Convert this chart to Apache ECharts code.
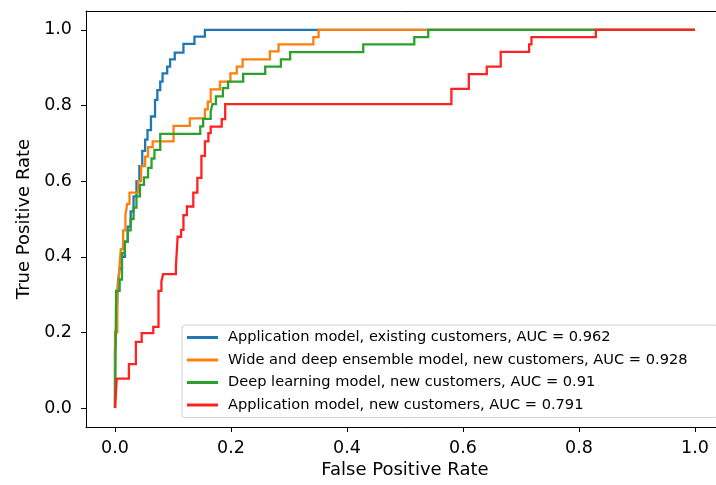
<!DOCTYPE html>
<html>
<head>
<meta charset="utf-8">
<script src="https://cdn.jsdelivr.net/npm/echarts@6/dist/echarts.min.js"></script>
<style>
html,body{margin:0;padding:0;background:#fff;overflow:hidden;}
#chart{width:716px;height:485px;}
</style>
</head>
<body>
<div id="chart"></div>
<script>
// ---- data ----
const seriesNames = [
  'Application model, existing customers, AUC = 0.962',
  'Wide and deep ensemble model, new customers, AUC = 0.928',
  'Deep learning model, new customers, AUC = 0.91',
  'Application model, new customers, AUC = 0.791'
];
const seriesColors = ['#1f77b4', '#ff7f0e', '#2ca02c', '#ff2222'];
const tickValues = [0, 0.2, 0.4, 0.6, 0.8, 1.0];

const fprExisting = [0,0,0.003,0.003,0.005,0.005,0.008,0.008,0.012,0.012,0.017,0.017,0.022,0.022,0.027,0.027,0.032,0.032,0.037,0.037,0.042,0.042,0.047,0.047,0.052,0.052,0.056,0.056,0.062,0.062,0.069,0.069,0.073,0.073,0.078,0.078,0.082,0.082,0.090,0.090,0.095,0.095,0.103,0.103,0.118,0.118,0.137,0.137,0.155,0.155,1.0];
const tprExisting = [0,0.15,0.15,0.25,0.25,0.33,0.33,0.37,0.37,0.40,0.40,0.44,0.44,0.48,0.48,0.52,0.52,0.56,0.56,0.60,0.60,0.64,0.64,0.68,0.68,0.71,0.71,0.735,0.735,0.771,0.771,0.815,0.815,0.841,0.841,0.863,0.863,0.885,0.885,0.903,0.903,0.922,0.922,0.940,0.940,0.963,0.963,0.982,0.982,1.0,1.0];

const fprWide = [0,0,0.004,0.004,0.007,0.007,0.010,0.010,0.014,0.014,0.018,0.018,0.021,0.021,0.025,0.025,0.040,0.040,0.045,0.045,0.052,0.052,0.057,0.057,0.065,0.065,0.101,0.101,0.129,0.129,0.155,0.155,0.160,0.160,0.165,0.165,0.181,0.181,0.199,0.199,0.210,0.210,0.220,0.220,0.267,0.267,0.282,0.282,0.342,0.342,0.351,0.351,1.0];
const tprWide = [0,0.20,0.20,0.30,0.30,0.36,0.36,0.42,0.42,0.47,0.47,0.51,0.51,0.54,0.54,0.57,0.57,0.60,0.60,0.64,0.64,0.665,0.665,0.69,0.69,0.705,0.705,0.746,0.746,0.766,0.766,0.79,0.79,0.81,0.81,0.843,0.843,0.863,0.863,0.885,0.885,0.903,0.903,0.922,0.922,0.943,0.943,0.962,0.962,0.981,0.981,1.0,1.0];

const fprDeep = [0,0.002,0.008,0.008,0.012,0.012,0.017,0.017,0.022,0.022,0.027,0.027,0.032,0.032,0.037,0.037,0.043,0.043,0.050,0.050,0.057,0.057,0.063,0.063,0.068,0.068,0.078,0.078,0.147,0.147,0.152,0.152,0.165,0.165,0.168,0.168,0.174,0.174,0.186,0.186,0.195,0.195,0.221,0.221,0.259,0.259,0.286,0.286,0.302,0.302,0.428,0.428,0.516,0.516,0.540,0.540,1.0];
const tprDeep = [0,0.31,0.31,0.34,0.34,0.41,0.41,0.44,0.44,0.47,0.47,0.50,0.50,0.53,0.53,0.56,0.56,0.59,0.59,0.61,0.61,0.635,0.635,0.66,0.66,0.683,0.683,0.725,0.725,0.745,0.745,0.765,0.765,0.784,0.784,0.804,0.804,0.824,0.824,0.846,0.846,0.863,0.863,0.884,0.884,0.903,0.903,0.922,0.922,0.941,0.941,0.962,0.962,0.981,0.981,1.0,1.0];

const fprNew = [0,0.003,0.003,0.024,0.024,0.036,0.036,0.046,0.046,0.066,0.066,0.075,0.075,0.080,0.080,0.083,0.083,0.105,0.105,0.108,0.108,0.114,0.114,0.118,0.118,0.124,0.124,0.135,0.135,0.142,0.142,0.149,0.149,0.155,0.155,0.161,0.161,0.165,0.165,0.184,0.184,0.190,0.190,0.580,0.580,0.610,0.610,0.641,0.641,0.665,0.665,0.714,0.714,0.718,0.718,0.829,0.829,1.0];
const tprNew = [0,0,0.078,0.078,0.116,0.116,0.175,0.175,0.198,0.198,0.215,0.215,0.31,0.31,0.335,0.335,0.354,0.354,0.374,0.374,0.453,0.453,0.471,0.471,0.51,0.51,0.533,0.533,0.57,0.57,0.609,0.609,0.667,0.667,0.705,0.705,0.727,0.727,0.744,0.744,0.764,0.764,0.804,0.804,0.844,0.844,0.883,0.883,0.903,0.903,0.942,0.942,0.962,0.962,0.981,0.981,1.0,1.0];

const curves = [
  [fprExisting, tprExisting],
  [fprWide, tprWide],
  [fprDeep, tprDeep],
  [fprNew, tprNew]
];

// ---- chart ----
const chart = echarts.init(document.getElementById('chart'), null, {renderer: 'canvas'});
const font = 'DejaVu Sans';
const gridW = 700;
const xMin = -0.05, xMax = -0.05 + gridW / 580;
const series = curves.map(function (c, i) {
  return {
    name: seriesNames[i],
    type: 'line',
    showSymbol: false,
    symbol: 'none',
    silent: true,
    lineStyle: {width: 2.3, color: seriesColors[i], join: 'miter', cap: 'butt'},
    itemStyle: {color: seriesColors[i]},
    data: c[0].map(function (x, k) { return [x, c[1][k]]; }),
    z: 2 + i
  };
});

const labelFmt = function (v) { return v.toFixed(1); };

chart.setOption({
  animation: false,
  backgroundColor: '#fff',
  grid: {
    left: 86, top: 11, width: gridW, height: 416,
    outerBoundsMode: 'none',
    containLabel: false,
    show: false
  },
  xAxis: [{
    type: 'value',
    min: xMin, max: xMax,
    axisLine: {show: true, onZero: false, lineStyle: {color: '#000', width: 1}},
    axisTick: {show: true, customValues: tickValues, length: 5, lineStyle: {color: '#000'}},
    axisLabel: {customValues: tickValues, fontFamily: font, fontSize: 17.5, color: '#000', margin: 12,
      formatter: labelFmt},
    splitLine: {show: false}
  }, {
    type: 'value',
    position: 'top',
    min: xMin, max: xMax,
    axisLine: {show: true, onZero: false, lineStyle: {color: '#000', width: 1}},
    axisTick: {show: false},
    axisLabel: {show: false},
    splitLine: {show: false}
  }],
  yAxis: {
    type: 'value',
    min: -0.05, max: 1.05,
    name: 'True Positive Rate',
    nameLocation: 'middle',
    nameGap: 52,
    nameRotate: 90,
    nameTextStyle: {fontFamily: font, fontSize: 18, color: '#000'},
    axisLine: {show: true, onZero: false, lineStyle: {color: '#000', width: 1}},
    axisTick: {show: true, customValues: tickValues, length: 5, lineStyle: {color: '#000'}},
    axisLabel: {customValues: tickValues, fontFamily: font, fontSize: 17.5, color: '#000', margin: 14,
      formatter: labelFmt},
    splitLine: {show: false}
  },
  graphic: [{
    type: 'text',
    x: 405, y: 461,
    style: {text: 'False Positive Rate', font: '18px "DejaVu Sans"', fill: '#000', textAlign: 'center', textVerticalAlign: 'top'}
  }],
  legend: {
    orient: 'vertical',
    left: 182, top: 325,
    padding: [5, 30, 5, 5],
    itemGap: 7.5,
    itemWidth: 31,
    itemHeight: 3,
    icon: 'rect',
    backgroundColor: 'rgba(255,255,255,0.85)',
    borderColor: '#d0d0d0',
    borderWidth: 1,
    borderRadius: 3,
    textStyle: {fontFamily: font, fontSize: 14.6, color: '#000', lineHeight: 14, padding: [0, 0, 0, 5]},
    data: seriesNames
  },
  series: series
});
</script>
</body>
</html>
